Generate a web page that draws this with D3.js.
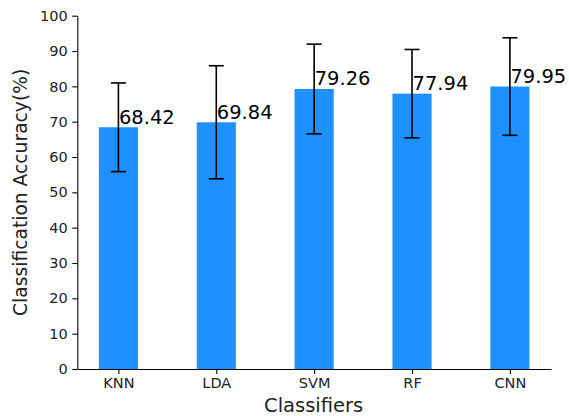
<!DOCTYPE html>
<html>
<head>
<meta charset="utf-8">
<script src="https://cdn.jsdelivr.net/npm/d3@7"></script>
<style>
  html, body { margin: 0; padding: 0; background: #fff; }
  svg { display: block; font-family: "DejaVu Sans", sans-serif; }
</style>
</head>
<body>
<svg id="chart" width="569" height="416"></svg>
<script>
// Classifier accuracy with standard-deviation error bars
const classifiers = ["KNN", "LDA", "SVM", "RF", "CNN"];
const accuracy = [68.42, 69.84, 79.26, 77.94, 79.95];
const stdDev = [12.55, 16.0, 12.7, 12.5, 13.8];
const yTicks = [0, 10, 20, 30, 40, 50, 60, 70, 80, 90, 100];

const svg = d3.select("#chart");
const plotLeft = 77.3, plotRight = 551, plotTop = 15.7, plotBottom = 369;
const barWidth = 0.4;

const x = d3.scaleLinear().domain([-0.42, 4.42]).range([plotLeft, plotRight]);
const y = d3.scaleLinear().domain([0, 100]).range([plotBottom, plotTop]);

// bars
svg.append("g").selectAll("rect")
  .data(classifiers)
  .join("rect")
  .attr("x", (d, i) => x(i - barWidth / 2))
  .attr("width", (d, i) => x(i + barWidth / 2) - x(i - barWidth / 2))
  .attr("y", (d, i) => y(accuracy[i]))
  .attr("height", (d, i) => y(0) - y(accuracy[i]))
  .attr("fill", "#1E90FF");

// error bars
const capHalf = 7.5;
const eb = svg.append("g").attr("stroke", "#000").attr("stroke-width", 1.6);
classifiers.forEach((c, i) => {
  const cx = x(i);
  const hi = y(accuracy[i] + stdDev[i]);
  const lo = y(accuracy[i] - stdDev[i]);
  eb.append("line").attr("x1", cx).attr("x2", cx).attr("y1", hi).attr("y2", lo);
  eb.append("line").attr("x1", cx - capHalf).attr("x2", cx + capHalf).attr("y1", hi).attr("y2", hi);
  eb.append("line").attr("x1", cx - capHalf).attr("x2", cx + capHalf).attr("y1", lo).attr("y2", lo);
});

// value labels
svg.append("g").selectAll("text")
  .data(classifiers)
  .join("text")
  .attr("x", (d, i) => x(i) + 0.5)
  .attr("y", (d, i) => y(accuracy[i]) - 3.5)
  .attr("font-size", 19.5)
  .attr("fill", "#000")
  .text((d, i) => accuracy[i].toFixed(2));

// y axis
const yAxis = d3.axisLeft(y).tickValues(yTicks).tickSize(5).tickPadding(4.5).tickSizeOuter(0);
const gy = svg.append("g").attr("transform", `translate(${plotLeft},0)`).call(yAxis);
gy.select(".domain").attr("stroke", "#000").attr("stroke-width", 1.1);
gy.selectAll(".tick line").attr("stroke", "#000").attr("stroke-width", 1.1);
gy.selectAll(".tick text").attr("font-size", 14.5).attr("fill", "#222").attr("font-family", "DejaVu Sans");

// x axis
const xAxis = d3.axisBottom(x).tickValues(d3.range(classifiers.length))
  .tickFormat(i => classifiers[i]).tickSize(5).tickPadding(4).tickSizeOuter(0);
const gx = svg.append("g").attr("transform", `translate(0,${plotBottom})`).call(xAxis);
gx.select(".domain").attr("stroke", "#000").attr("stroke-width", 1.1);
gx.selectAll(".tick line").attr("stroke", "#000").attr("stroke-width", 1.1);
gx.selectAll(".tick text").attr("font-size", 14.5).attr("fill", "#222").attr("font-family", "DejaVu Sans");

// axis titles
svg.append("text")
  .attr("x", (plotLeft + plotRight) / 2 - 0.5)
  .attr("y", 411.5)
  .attr("text-anchor", "middle")
  .attr("font-size", 19.5)
  .attr("fill", "#222")
  .text("Classifiers");

svg.append("text")
  .attr("transform", `translate(27,${(plotTop + plotBottom) / 2}) rotate(-90)`)
  .attr("text-anchor", "middle")
  .attr("font-size", 18.7)
  .attr("fill", "#222")
  .text("Classification Accuracy(%)");
</script>
</body>
</html>
